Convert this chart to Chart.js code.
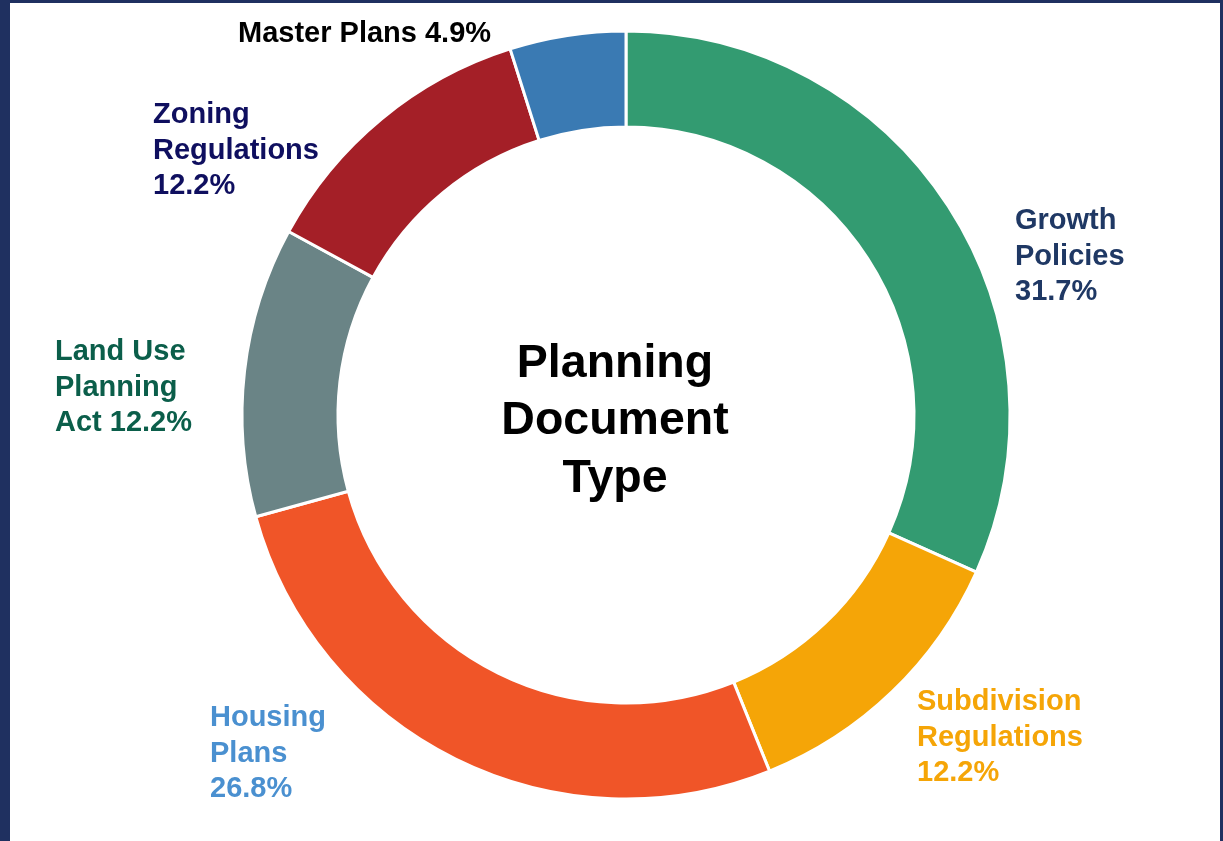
<!DOCTYPE html>
<html>
<head>
<meta charset="utf-8">
<script src="https://cdn.jsdelivr.net/npm/chart.js@4"></script>
<style>
    html, body { margin: 0; padding: 0; background: #1f3060; }
    #frame {
        position: absolute; left: 0; top: 0;
        width: 1210px; height: 838px;
        border-left: 10px solid #1f3060;
        border-top: 3px solid #1f3060;
        border-right: 3px solid #1f3060;
        background: #ffffff;
    }
    #docChart { display: block; }
</style>
</head>
<body>
<div id="frame"><canvas id="docChart" width="1210" height="838"></canvas></div>
<script>
// Chart data
const categories = ['Growth Policies', 'Subdivision Regulations', 'Housing Plans', 'Land Use Planning Act', 'Zoning Regulations', 'Master Plans'];
const counts = [13, 5, 11, 5, 5, 2];
const sliceColors = ['#339b71', '#f5a507', '#f05528', '#6a8486', '#a41f27', '#3a7ab3'];
const labelColors = ['#1f3864', '#f5a507', '#4a90d0', '#0b5e4a', '#0f0f5f', '#000000'];
const centerTitle = ['Planning', 'Document', 'Type'];

// How each label breaks into lines; the percentage goes on its own line or the last one
const labelLines = [
    { lines: ['Growth', 'Policies'], inline: false },
    { lines: ['Subdivision', 'Regulations'], inline: false },
    { lines: ['Housing', 'Plans'], inline: false },
    { lines: ['Land Use', 'Planning', 'Act'], inline: true },
    { lines: ['Zoning', 'Regulations'], inline: false },
    { lines: ['Master Plans'], inline: true }
];

// Label placement relative to the ring centre (px)
const labelSpots = [
    { dx: 389, dy: -194 },
    { dx: 291, dy: 287 },
    { dx: -416, dy: 303 },
    { dx: -571, dy: -63 },
    { dx: -473, dy: -300 },
    { dx: -388, dy: -381 }
];

const FONT = '"Liberation Sans", Arial, sans-serif';

const labelPlugin = {
    id: 'sliceLabels',
    afterDraw(chart) {
        const ctx = chart.ctx;
        const arc = chart.getDatasetMeta(0).data[0];
        const cx = arc.x, cy = arc.y;
        const total = counts.reduce((a, b) => a + b, 0);

        ctx.save();
        ctx.textBaseline = 'middle';
        ctx.textAlign = 'left';
        ctx.font = 'bold 29px ' + FONT;

        counts.forEach((v, i) => {
            const pct = (v / total * 100).toFixed(1) + '%';
            const spec = labelLines[i];
            const lines = spec.lines.slice();
            if (spec.inline) {
                lines[lines.length - 1] += ' ' + pct;
            } else {
                lines.push(pct);
            }
            ctx.fillStyle = labelColors[i];
            lines.forEach((line, j) => {
                ctx.fillText(line, cx + labelSpots[i].dx, cy + labelSpots[i].dy + j * 35.5);
            });
        });

        // Centre title (sits a little left of the ring centre)
        ctx.textAlign = 'center';
        ctx.fillStyle = '#000000';
        ctx.font = 'bold 46.5px ' + FONT;
        centerTitle.forEach((line, j) => {
            ctx.fillText(line, cx - 11, cy - 51 + j * 57.5);
        });
        ctx.restore();
    }
};

new Chart(document.getElementById('docChart'), {
    type: 'doughnut',
    data: {
        labels: categories,
        datasets: [{
            data: counts,
            backgroundColor: sliceColors,
            borderColor: '#ffffff',
            borderWidth: 3
        }]
    },
    options: {
        responsive: false,
        animation: false,
        radius: 384,
        cutout: '75%',
        layout: {
            padding: { left: 22, right: 0, top: 0, bottom: 14 }
        },
        plugins: {
            legend: { display: false },
            tooltip: { enabled: false }
        }
    },
    plugins: [labelPlugin]
});
</script>
</body>
</html>
